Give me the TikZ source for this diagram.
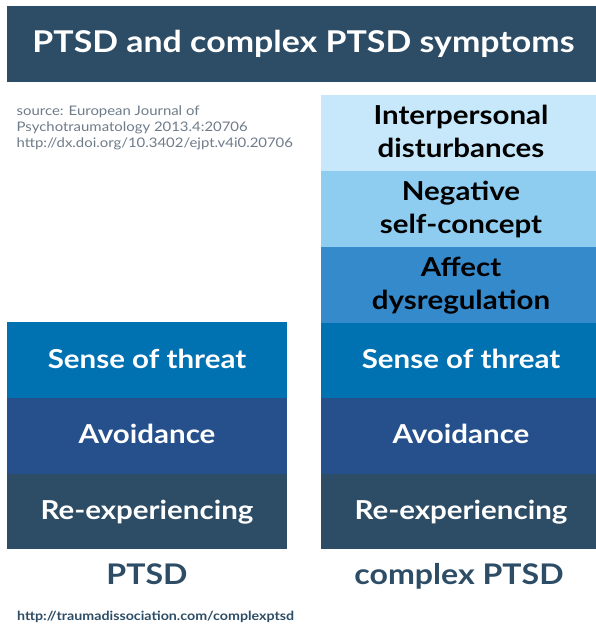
\documentclass[tikz,border=0pt]{standalone}
\usepackage{fontspec}
\setmainfont{Lato}[FakeStretch=1.13]
\definecolor{dark}{HTML}{2D4D66}
\definecolor{avoid}{HTML}{26508C}
\definecolor{threat}{HTML}{0071B1}
\definecolor{affect}{HTML}{358ACB}
\definecolor{negself}{HTML}{8ECDF0}
\definecolor{interp}{HTML}{C7E8FA}
\definecolor{srcgray}{HTML}{6E7C8A}
\tikzset{
  row/.style={fill=#1, draw=none, minimum width=280pt, minimum height=75.6pt, inner sep=0pt, align=center, font=\bfseries\fontsize{26.1}{32.6}\selectfont},
  whiterow/.style={row=#1, text=white, text height=20.6pt, text depth=5pt},
  blackrow/.style={row=#1, text=black, text height=54pt, text depth=5pt},
  collabel/.style={text=dark, font=\bfseries\fontsize{28.4}{30}\selectfont, inner sep=0pt, anchor=base}
}
\begin{document}
\begin{tikzpicture}[x=1pt,y=-1pt]
\clip (0,0) rectangle (596,624);
\fill[white] (0,0) rectangle (596,624);
% title
\node[fill=dark, text=white, minimum width=593pt, minimum height=75.7pt, inner sep=0pt, text height=21.3pt, text depth=5pt, font=\bfseries\fontsize{30}{32}\selectfont] (title) at (303.5,43.85) {PTSD and complex PTSD symptoms};
% source
\node[anchor=base west, align=left, text=srcgray, inner sep=0pt, font=\fontsize{13.2}{16}\selectfont] (src) at (16.5,147) {source: European Journal of\\Psychotraumatology 2013.4:20706\\http://dx.doi.org/10.3402/ejpt.v4i0.20706};
% left column
\node[whiterow=threat] (lthreat) at (147,360.2) {Sense of threat};
\node[whiterow=avoid] (lavoid) at (147,435.85) {Avoidance};
\node[whiterow=dark] (lreexp) at (147,511.3) {Re-experiencing};
% right column
\node[blackrow=interp] (rinterp) at (461,133) {Interpersonal\\disturbances};
\node[blackrow=negself] (rneg) at (461,208.85) {Negative\\self-concept};
\node[blackrow=affect] (raffect) at (461,284.7) {Affect\\dysregulation};
\node[whiterow=threat] (rthreat) at (461,360.5) {Sense of threat};
\node[whiterow=avoid] (ravoid) at (461,435.85) {Avoidance};
\node[whiterow=dark] (rreexp) at (461,511.3) {Re-experiencing};
% labels
\node[collabel] (lptsd) at (147,584) {PTSD};
\node[collabel] (lcptsd) at (459,584) {complex PTSD};
\node[anchor=base west, text=dark, inner sep=0pt, font=\bfseries\fontsize{12.6}{14}\selectfont] (url) at (17,620.5) {http://traumadissociation.com/complexptsd};
\end{tikzpicture}
\end{document}
